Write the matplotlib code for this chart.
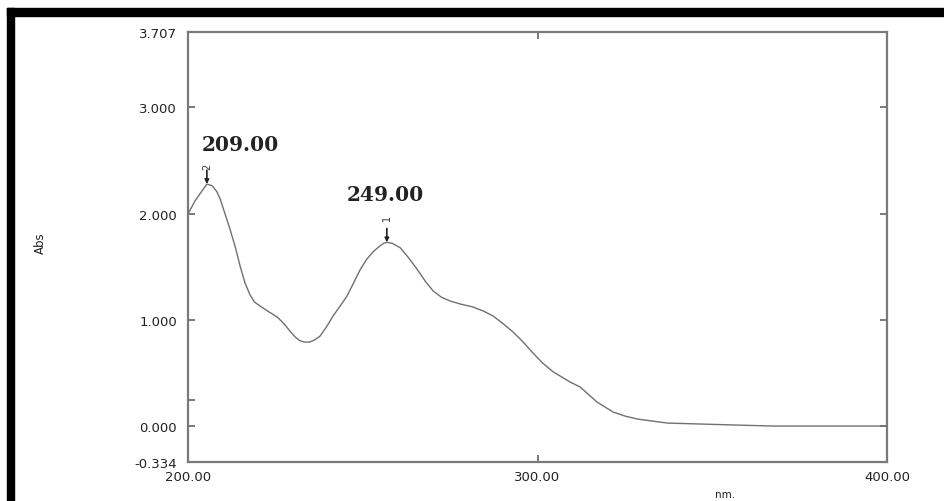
import matplotlib
matplotlib.use("Agg")
import matplotlib.pyplot as plt
from matplotlib.patches import Rectangle

# UV spectrum (wavelength in nm, absorbance)
wavelength = [200.0, 202.0, 204.0, 205.4, 206.9, 208.2, 209.2, 210.6, 212.0, 213.5,
              214.9, 216.3, 217.7, 219.0, 220.6, 223.0, 225.5, 227.5, 229.2, 230.7,
              232.0, 233.5, 234.9, 236.3, 237.8, 239.6, 241.5, 243.5, 245.5, 247.4,
              249.2, 251.0, 252.9, 254.9, 256.0, 256.9, 258.4, 260.7, 263.0, 265.5,
              268.0, 270.1, 272.5, 275.0, 278.0, 281.5, 284.5, 287.3, 290.0, 293.0,
              296.0, 298.7, 301.5, 304.4, 309.3, 312.2, 317.0, 321.6, 325.0, 328.5,
              337.1, 355.9, 367.4, 400.0]
absorbance = [1.997, 2.119, 2.213, 2.278, 2.262, 2.210, 2.138, 1.998, 1.856, 1.690,
              1.508, 1.350, 1.240, 1.170, 1.132, 1.080, 1.029, 0.965, 0.895, 0.840,
              0.806, 0.792, 0.794, 0.815, 0.850, 0.935, 1.038, 1.130, 1.226, 1.350,
              1.470, 1.565, 1.640, 1.696, 1.722, 1.730, 1.722, 1.680, 1.590, 1.480,
              1.360, 1.275, 1.215, 1.179, 1.150, 1.123, 1.085, 1.038, 0.970, 0.888,
              0.790, 0.690, 0.595, 0.515, 0.418, 0.371, 0.230, 0.136, 0.098, 0.070,
              0.032, 0.014, 0.004, 0.004]

# detected peaks: index into the arrays, peak number, label text
peak_idx = [3, 35]
peak_num = ["2", "1"]
peak_text = ["209.00", "249.00"]
# label offsets in points (label dx, label dy, number dy)
peak_offsets = [(24, 29, 13), (-1, 35, 18)]

y_ticks = [-0.334, 0.0, 1.0, 2.0, 3.0, 3.707]
y_ticklabels = ["-0.334", "0.000", "1.000", "2.000", "3.000", "3.707"]
x_ticks = [200, 300, 400]
x_ticklabels = ["200.00", "300.00", "400.00"]

fig = plt.figure(figsize=(9.44, 5.02), dpi=100)
ax = fig.add_axes([188 / 944, 39 / 502, 699 / 944, 430 / 502])

ax.plot(wavelength, absorbance, color="#707070", linewidth=1.0)
ax.set_xlim(200, 400)
ax.set_ylim(-0.334, 3.707)

# ticks
ax.set_yticks(y_ticks)
ax.set_yticklabels(y_ticklabels)
ax.set_xticks(x_ticks)
ax.set_xticklabels(x_ticklabels)
ax.set_yticks([0.25], minor=True)
ax.tick_params(axis="both", which="both", direction="in", length=5, width=1.1,
               color="#555555", labelsize=9.5, labelcolor="#222222",
               top=True, right=True)
ax.tick_params(axis="y", which="minor", right=False)
ax.tick_params(axis="y", pad=8)
ax.tick_params(axis="x", pad=6)

for s in ax.spines.values():
    s.set_color("#7a7a7a")
    s.set_linewidth(1.6)

ax.set_xlabel("nm.", fontsize=7.5, color="#222222")
ax.xaxis.set_label_coords(0.768, -0.063)
ax.set_ylabel("Abs", fontsize=8.5, color="#222222")
ax.yaxis.set_label_coords(-0.202, 0.512)

# peak markers
for i, num, txt, (dx, dy, ny) in zip(peak_idx, peak_num, peak_text, peak_offsets):
    px, py = wavelength[i], absorbance[i]
    ax.annotate("", xy=(px, py), xytext=(0, 10), textcoords="offset points",
                arrowprops=dict(arrowstyle="-|>", color="#222222", lw=1.2,
                                mutation_scale=6, shrinkA=0, shrinkB=0))
    ax.annotate(num, xy=(px, py), xytext=(0, ny), textcoords="offset points",
                rotation=90, ha="center", va="center", fontsize=7,
                color="#333333")
    ax.annotate(txt, xy=(px, py), xytext=(dx, dy), textcoords="offset points",
                ha="center", va="center", fontsize=14.5, fontweight="bold",
                family="DejaVu Serif", color="#222222")

# black frame of the screenshot (top and left edges visible)
fig.add_artist(Rectangle((7 / 944, 0), 7 / 944, 493 / 502,
                         transform=fig.transFigure, color="black"))
fig.add_artist(Rectangle((7 / 944, 485 / 502), 937 / 944, 8 / 502,
                         transform=fig.transFigure, color="black"))

fig.savefig("out.png", dpi=100)
